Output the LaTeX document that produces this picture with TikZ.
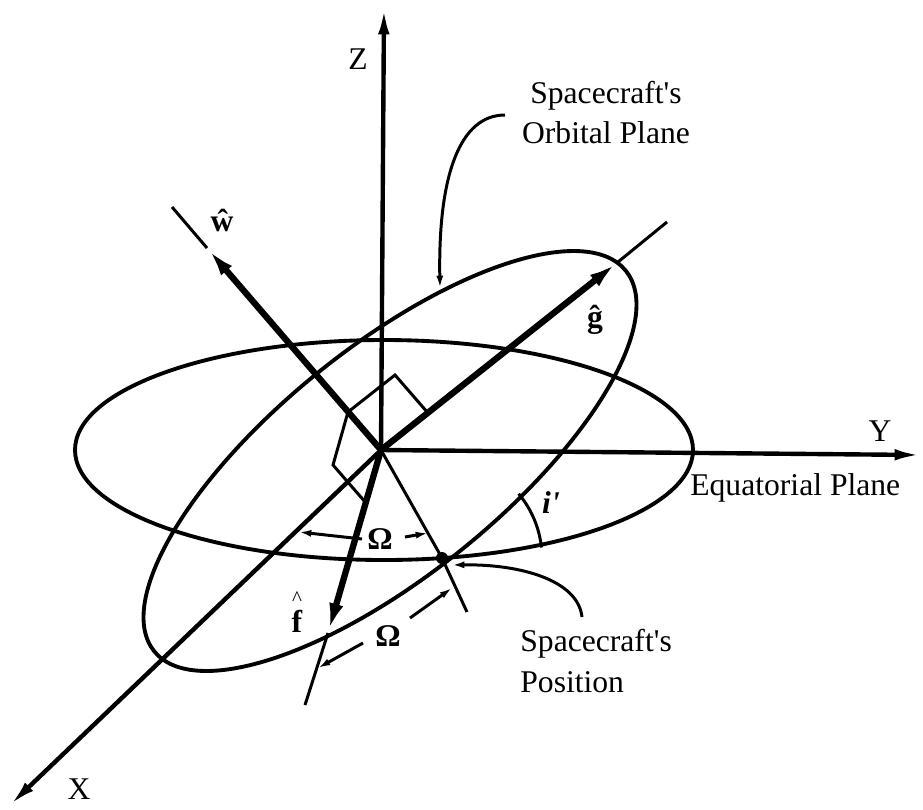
\documentclass[tikz,border=0pt]{standalone}
\usepackage{fontspec}
\setmainfont{Liberation Serif}
\usetikzlibrary{arrows.meta}

\begin{document}
\begin{tikzpicture}[x=0.02cm, y=-0.02cm,
    axis/.style={line width=2.5pt, -{Latex[length=15pt,width=6.5pt]}},
    vec/.style={line width=3.6pt, -{Latex[length=17pt,width=8pt]}},
    guide/.style={line width=1.7pt},
    ring/.style={line width=2.2pt},
    dim/.style={line width=1.7pt, -{Latex[length=7pt,width=4pt]}},
    lbl/.style={font=\fontsize{18}{22}\selectfont, inner sep=0pt}]
    \useasboundingbox (0,0) rectangle (923,809);
    % points
    \coordinate (O) at (381,450);
    \coordinate (ztip) at (384,8);
    \coordinate (ytip) at (921,455);
    \coordinate (xtip) at (10,805);
    \coordinate (wtip) at (207,248);
    \coordinate (wend) at (172,207);
    \coordinate (gtip) at (618,262);
    \coordinate (gend) at (667,222);
    \coordinate (ftip) at (328,633);
    \coordinate (fend) at (305,705);
    \coordinate (sc) at (442,558);
    \coordinate (scend) at (467,612);
    % planes
    \draw[ring] (384,450) ellipse [x radius=309, y radius=110];
    \draw[ring, rotate around={38.9:(390,461)}] (390,461) ellipse [x radius=303, y radius=114];
    % axes
    \draw[axis] (O) -- (ztip);
    \draw[axis] (O) -- (ytip);
    \draw[axis] (O) -- (xtip);
    \node[lbl] (zlab) at (358,59) {Z};
    \node[lbl] (ylab) at (880,431) {Y};
    \node[lbl] (xlab) at (79,789) {X};
    % unit vectors
    \draw[vec] (O) -- (wtip);
    \draw[vec] (O) -- (gtip);
    \draw[vec] (O) -- (ftip);
    \draw[guide] (wtip) -- (wend);
    \draw[guide] (gtip) -- (gend);
    \draw[guide] (ftip) -- (fend);
    \draw[guide] (O) -- (sc) -- (scend);
    \node[lbl] (wlab) at (222,220) {\textbf{\^{w}}};
    \node[lbl] (glab) at (595,320) {\textbf{\^{g}}};
    \node[lbl] (flab) at (297,612) {\shortstack{{\fontsize{12}{12}\selectfont\textasciicircum}\\\textbf{f}}};
    % right angles
    \draw[guide] (348,412) -- (395,375) -- (428,413);
    \draw[guide] (348,412) -- (333,465) -- (366,503);
    % spacecraft and angles
    \fill (sc) circle [radius=6];
    \draw[guide] ([shift={(-6:100)}]sc) arc [start angle=-6, end angle=-40, radius=100];
    \node[lbl] (ilab) at (551,503) {\textbf{\textit{i\textquotesingle}}};
    \node[lbl] (om1) at (380,539) {\textbf{Ω}};
    \draw[dim] (362,539) -- (299,532);
    \draw[dim] (405,537) -- (428,533);
    \node[lbl] (om2) at (388,636) {\textbf{Ω}};
    \draw[dim] (410,618) -- (452,588);
    \draw[dim] (363,643) -- (318,668);
    % labels and leaders
    \node[lbl, anchor=base] (orb1) at (606,103) {Spacecraft\textquotesingle s};
    \node[lbl, anchor=base] (orb2) at (606,143) {Orbital Plane};
    \draw[dim] (505,115) .. controls (460,115) and (438,175) .. (440,288);
    \node[lbl, anchor=base west] (eqlab) at (690,495) {Equatorial Plane};
    \node[lbl, anchor=base west] (pos1) at (520,651) {Spacecraft\textquotesingle s};
    \node[lbl, anchor=base west] (pos2) at (520,692) {Position};
    \draw[dim] (582,617) .. controls (578,580) and (520,564) .. (452,565);
\end{tikzpicture}
\end{document}
